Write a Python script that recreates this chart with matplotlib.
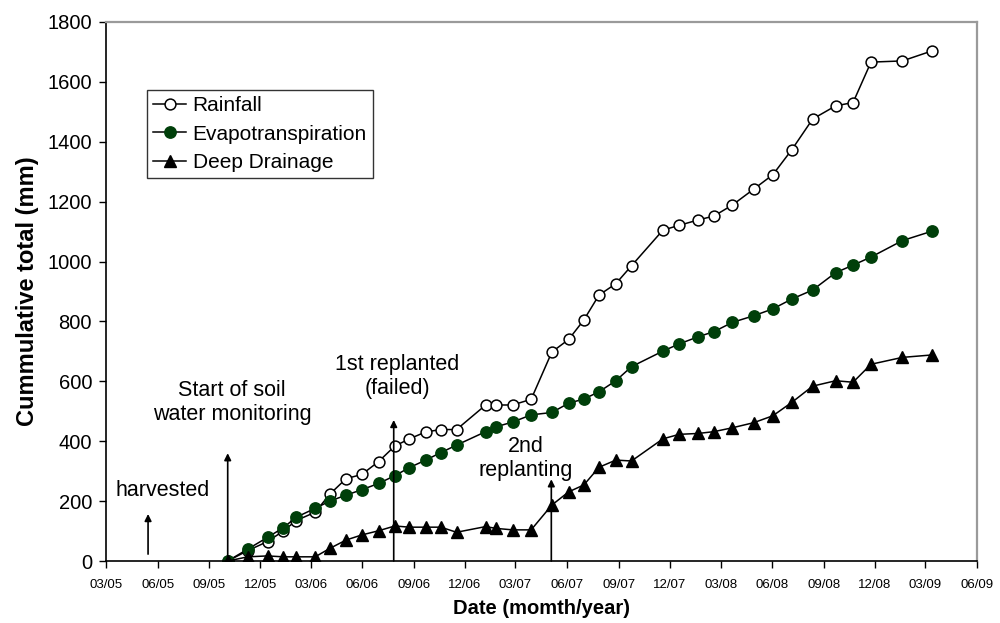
import numpy as np
import matplotlib
matplotlib.use('Agg')
import matplotlib.pyplot as plt
import matplotlib.dates as mdates
from datetime import datetime

plt.rcParams['font.family'] = ['Liberation Sans', 'DejaVu Sans']

# sampling dates of the soil water monitoring
dates = ['2005-10-04', '2005-11-09', '2005-12-14', '2006-01-11', '2006-02-03',
         '2006-03-09', '2006-04-04', '2006-05-03', '2006-05-31', '2006-06-30',
         '2006-07-29', '2006-08-24', '2006-09-22', '2006-10-19', '2006-11-16',
         '2007-01-07', '2007-01-25', '2007-02-24', '2007-03-29', '2007-05-05',
         '2007-06-04', '2007-07-01', '2007-07-28', '2007-08-27', '2007-09-24',
         '2007-11-19', '2007-12-18', '2008-01-21', '2008-02-18', '2008-03-22',
         '2008-04-29', '2008-06-02', '2008-07-06', '2008-08-12', '2008-09-22',
         '2008-10-23', '2008-11-24', '2009-01-19', '2009-03-12']

# cumulative totals (mm)
rainfall = [0, 35, 65, 100, 135, 163, 223, 275, 289, 332,
            384, 408, 431, 439, 439, 521, 521, 521, 540, 698,
            740, 805, 888, 926, 986, 1105, 1121, 1139, 1152, 1189,
            1242, 1290, 1374, 1476, 1520, 1531, 1666, 1670, 1703]
evapotranspiration = [0, 40, 79, 111, 146, 176, 200, 220, 238, 259,
                      285, 312, 337, 362, 387, 432, 448, 464, 488, 496,
                      527, 541, 565, 602, 649, 701, 725, 749, 766, 797,
                      819, 842, 875, 905, 963, 988, 1015, 1070, 1101]
deep_drainage = [0, 14, 17, 14, 14, 14, 42, 70, 87, 101,
                 117, 113, 113, 113, 96, 115, 109, 104, 104, 187,
                 231, 254, 313, 337, 334, 408, 423, 426, 432, 445,
                 462, 485, 530, 584, 602, 597, 657, 680, 688]

# events: label, arrow date, arrow base and tip, label date, label height
events = ['harvested', 'Start of soil\nwater monitoring', '1st replanted\n(failed)', '2nd\nreplanting']
event_dates = ['2005-05-15', '2005-10-04', '2006-07-27', '2007-05-04']
arrow_base = [23, 0, 0, 0]
arrow_tip = [157, 360, 471, 273]
label_dates = ['2005-06-10', '2005-10-12', '2006-08-02', '2007-03-19']
label_y = [234, 528, 616, 341]

def d(s):
    return datetime.strptime(s, '%Y-%m-%d')

x = [d(s) for s in dates]

fig = plt.figure(figsize=(10, 6.23), dpi=100)
ax = fig.add_axes([0.106, 0.0995, 0.871, 0.8652])

ax.plot(x, rainfall, color='black', lw=1.1, marker='o', ms=7.8,
        mfc='white', mec='black', mew=1.1, label='Rainfall')
ax.plot(x, evapotranspiration, color='black', lw=1.1, marker='o', ms=8.2,
        mfc='#003f0a', mec='#003f0a', label='Evapotranspiration')
ax.plot(x, deep_drainage, color='black', lw=1.1, marker='^', ms=8.5,
        mfc='black', mec='black', label='Deep Drainage')

for i in range(len(events)):
    ax.annotate('', xy=(d(event_dates[i]), arrow_tip[i]),
                xytext=(d(event_dates[i]), arrow_base[i]),
                arrowprops=dict(arrowstyle='-|>', color='black', lw=1.2,
                                mutation_scale=10, shrinkA=0, shrinkB=0))
    ax.text(d(label_dates[i]), label_y[i], events[i], ha='center', va='center',
            fontsize=15.5, linespacing=1.2)

ax.set_xlim(d('2005-03-01'), d('2009-06-01'))
ax.set_ylim(0, 1800)
ax.set_yticks(np.arange(0, 1801, 200))
ax.xaxis.set_major_locator(mdates.MonthLocator(bymonth=[3, 6, 9, 12]))
ax.xaxis.set_major_formatter(mdates.DateFormatter('%m/%y'))
ax.tick_params(axis='y', labelsize=14.5, direction='out', length=5, width=1, pad=5)
ax.tick_params(axis='x', labelsize=9.5, direction='out', length=5, width=1, pad=8)

ax.set_xlabel('Date (momth/year)', fontsize=14.5, fontweight='bold', labelpad=6)
ax.set_ylabel('Cummulative total (mm)', fontsize=17, fontweight='bold', labelpad=6)

for side in ['top', 'right']:
    ax.spines[side].set_color('#9a9a9a')
    ax.spines[side].set_linewidth(1.6)
for side in ['left', 'bottom']:
    ax.spines[side].set_color('black')
    ax.spines[side].set_linewidth(1.2)

leg = ax.legend(loc='upper left', bbox_to_anchor=(0.0467, 0.874), borderaxespad=0,
                fontsize=15, frameon=True, fancybox=False, edgecolor='black',
                handlelength=1.6, handletextpad=0.3, borderpad=0.3,
                labelspacing=0.45, numpoints=1)
leg.get_frame().set_linewidth(1.0)

plt.savefig('out.png', dpi=100)
